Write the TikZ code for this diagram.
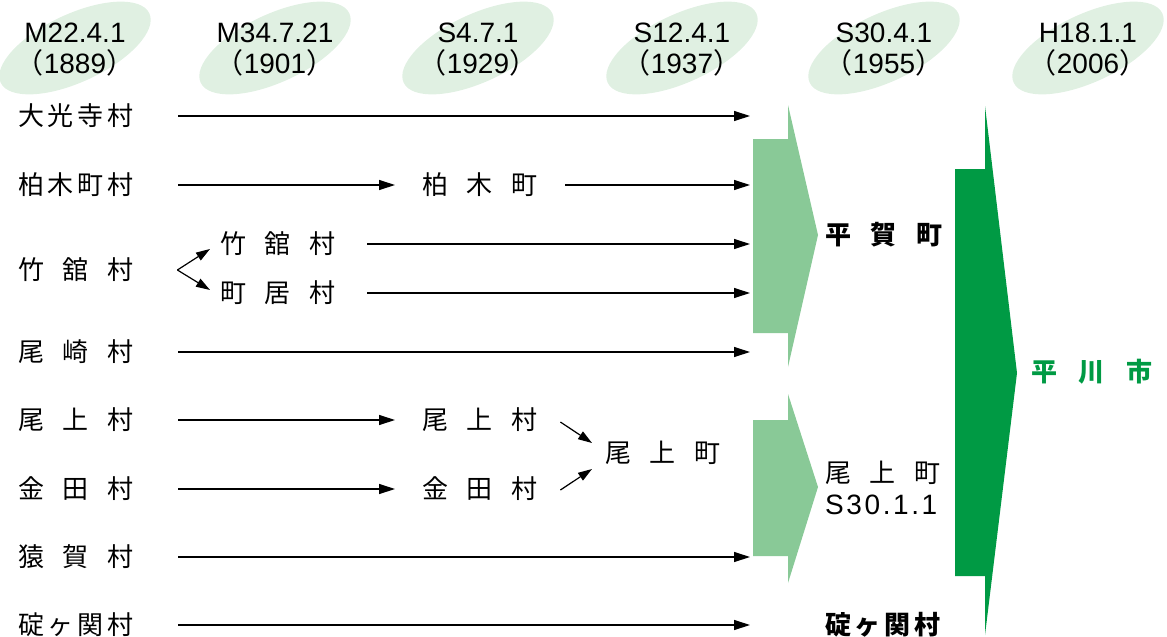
\documentclass[tikz,border=0pt]{standalone}
\usepackage{fontspec}
\setmainfont{Liberation Sans}
\newfontfamily\cjk{Noto Sans CJK JP}
\usetikzlibrary{arrows.meta,shapes.geometric,calc}
\definecolor{ellfill}{HTML}{E0F0E2}
\definecolor{lgreen}{HTML}{89C997}
\definecolor{dgreen}{HTML}{009A44}
\newcommand\spr[2][115pt]{\makebox[#1]{#2}}
\begin{document}
\begin{tikzpicture}[x=1pt,y=-1pt,
  lab/.style={anchor=west, inner sep=0pt, font=\cjk\fontsize{26}{30}\selectfont},
  blab/.style={lab, font=\cjk\bfseries\fontsize{26}{30}\selectfont},
  datebub/.style={ellipse, fill=ellfill, minimum width=164pt, minimum height=68pt, inner sep=0pt, rotate=25},
  datetxt/.style={align=center, inner sep=0pt, font=\fontsize{28}{31}\selectfont},
  arr/.style={line width=1.2pt, -{Triangle[length=16pt,width=10pt]}},
  sarr/.style={line width=1.2pt, -{Triangle[length=14pt,width=9pt]}}]
\useasboundingbox (0,0) rectangle (1167,637);

% date bubbles
\node[datebub] (e1) at (75,48) {};
\node[datebub] (e2) at (275,48) {};
\node[datebub] (e3) at (478,48) {};
\node[datebub] (e4) at (682,48) {};
\node[datebub] (e5) at (884,48) {};
\node[datebub] (e6) at (1088,48) {};
\node[datetxt] (d1) at (75,50) {M22.4.1\\{\cjk （}1889{\cjk ）}};
\node[datetxt] (d2) at (275,50) {M34.7.21\\{\cjk （}1901{\cjk ）}};
\node[datetxt] (d3) at (478,50) {S4.7.1\\{\cjk （}1929{\cjk ）}};
\node[datetxt] (d4) at (682,50) {S12.4.1\\{\cjk （}1937{\cjk ）}};
\node[datetxt] (d5) at (884,50) {S30.4.1\\{\cjk （}1955{\cjk ）}};
\node[datetxt] (d6) at (1088,50) {H18.1.1\\{\cjk （}2006{\cjk ）}};

% merge shapes
\fill[lgreen] (753,139) -- (788,139) -- (788,105) -- (818,235) -- (788,367) -- (788,333) -- (753,333) -- cycle;
\fill[lgreen] (753,420) -- (788,420) -- (788,394) -- (818,487) -- (788,583) -- (788,556) -- (753,556) -- cycle;
\fill[dgreen] (955,169) -- (985,169) -- (985,106) -- (1017,373) -- (985,635) -- (985,576) -- (955,576) -- cycle;
\coordinate (ae) at (750,0);

% left column
\node[lab] (r1) at (18,116) {\spr{大\hfill 光\hfill 寺\hfill 村}};
\node[lab] (r2) at (18,185) {\spr{柏\hfill 木\hfill 町\hfill 村}};
\node[lab] (r3) at (18,270) {\spr{竹\hfill 舘\hfill 村}};
\node[lab] (r4) at (18,352) {\spr{尾\hfill 崎\hfill 村}};
\node[lab] (r5) at (18,420) {\spr{尾\hfill 上\hfill 村}};
\node[lab] (r6) at (18,489) {\spr{金\hfill 田\hfill 村}};
\node[lab] (r7) at (18,557) {\spr{猿\hfill 賀\hfill 村}};
\node[lab] (r8) at (18,625) {\spr{碇\hfill ヶ\hfill 関\hfill 村}};

% middle columns
\node[lab] (kashi) at (422,185) {\spr{柏\hfill 木\hfill 町}};
\node[lab] (tate) at (220,244) {\spr{竹\hfill 舘\hfill 村}};
\node[lab] (machi) at (220,293) {\spr{町\hfill 居\hfill 村}};
\node[lab] (ogamim) at (422,420) {\spr{尾\hfill 上\hfill 村}};
\node[lab] (kaneda) at (422,489) {\spr{金\hfill 田\hfill 村}};
\node[lab] (ogamit) at (605,453) {\spr{尾\hfill 上\hfill 町}};

% right columns
\node[blab] (hiraga) at (825,235) {\spr[117pt]{平\hfill 賀\hfill 町}};
\node[lab] (onoue) at (825,473) {\spr{尾\hfill 上\hfill 町}};
\node[anchor=west, inner sep=0pt, font=\fontsize{28}{31}\selectfont] (onouedate) at (825,505) {\spr[112pt]{S\hfill 3\hfill 0\hfill .\hfill 1\hfill .\hfill 1}};
\node[blab] (ikari) at (825,625) {\spr{碇\hfill ヶ\hfill 関\hfill 村}};
\node[blab, text=dgreen] (hirakawa) at (1031,372) {\spr[121pt]{平\hfill 川\hfill 市}};

% connectors
\draw[arr] ([xshift=45pt]r1.east) -- (ae |- r1.east);
\draw[arr] ([xshift=45pt]r2.east) -- ([xshift=-27pt]kashi.west);
\draw[arr] ([xshift=28pt]kashi.east) -- (ae |- kashi.east);
\coordinate (br) at ([xshift=44pt]r3.east);
\draw[sarr] (br) -- ($(tate.west)+(-10,5)$);
\draw[sarr] (br) -- ($(machi.west)+(-10,-3)$);
\draw[arr] ([xshift=32pt]tate.east) -- (ae |- tate.east);
\draw[arr] ([xshift=32pt]machi.east) -- (ae |- machi.east);
\draw[arr] ([xshift=45pt]r4.east) -- (ae |- r4.east);
\draw[arr] ([xshift=45pt]r5.east) -- ([xshift=-27pt]ogamim.west);
\draw[arr] ([xshift=45pt]r6.east) -- ([xshift=-27pt]kaneda.west);
\draw[sarr] ($(ogamim.east)+(23,2)$) -- ($(ogamit.west)+(-13,-10)$);
\draw[sarr] ($(kaneda.east)+(23,1)$) -- ($(ogamit.west)+(-13,16)$);
\draw[arr] ([xshift=45pt]r7.east) -- (ae |- r7.east);
\draw[arr] ([xshift=45pt]r8.east) -- (ae |- r8.east);
\end{tikzpicture}
\end{document}
